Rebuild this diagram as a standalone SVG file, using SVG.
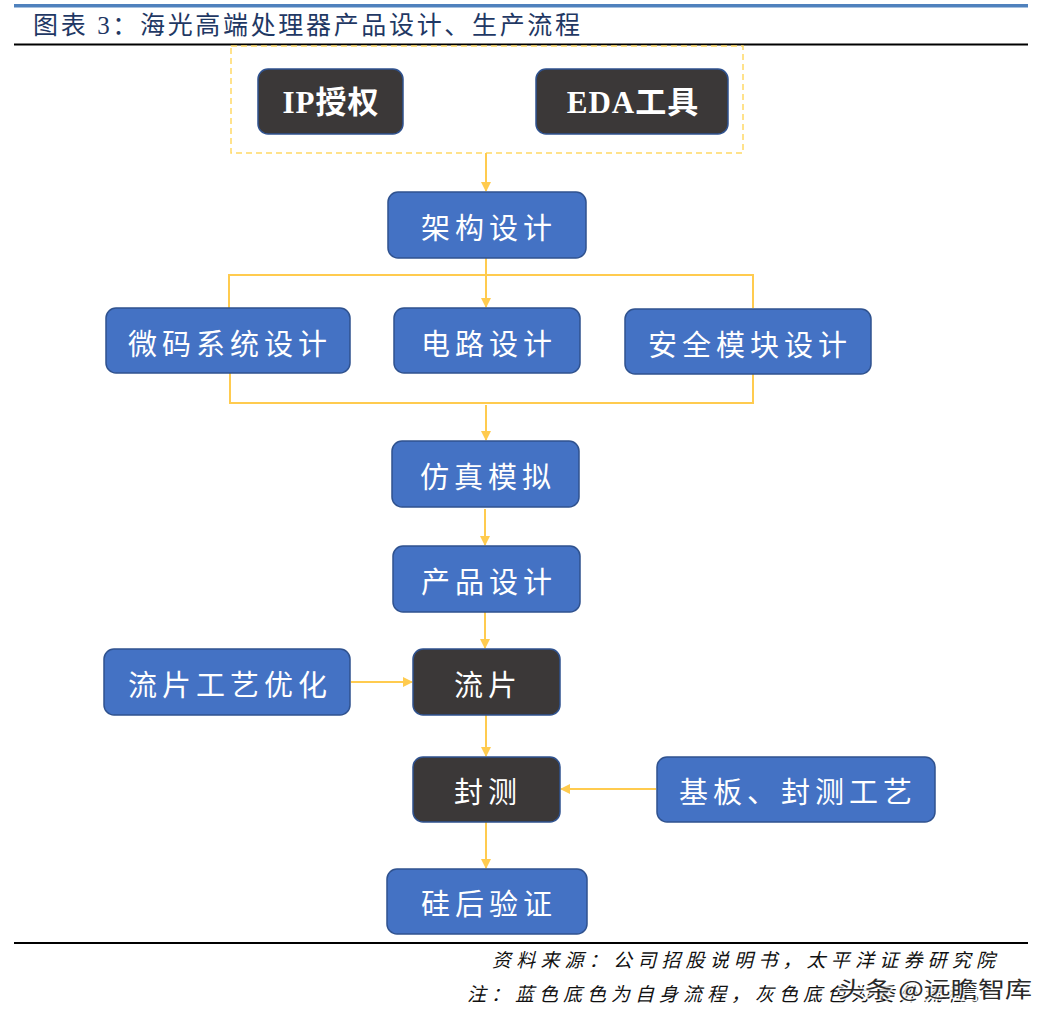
<svg xmlns="http://www.w3.org/2000/svg" width="1056" height="1021" viewBox="0 0 1056 1021">
<defs>
<style>
.blue{fill:#4472C4;stroke:#2F528F;stroke-width:1.5}
.dark{fill:#3B3838;stroke:#2F528F;stroke-width:1.5}
.lbl{font-family:"Noto Sans CJK SC","Liberation Sans",sans-serif;font-size:29px;fill:#FFFFFF;text-anchor:middle;dominant-baseline:central;letter-spacing:5px}
.bold{font-family:"Liberation Serif","Noto Sans CJK SC",serif;font-weight:bold;font-size:31px;letter-spacing:1px}
.con{fill:none;stroke:#FFCB4F;stroke-width:2}
.note{font-family:"Liberation Serif","Noto Sans CJK SC",serif;font-style:italic;font-size:19px;fill:#111111}
</style>
<marker id="arr" viewBox="0 0 10 10" refX="9" refY="5" markerWidth="10" markerHeight="10" markerUnits="userSpaceOnUse" orient="auto">
<path d="M0,0 L10,5 L0,10 z" fill="#FFCB4F"/>
</marker>
</defs>
<rect width="1056" height="1021" fill="#FFFFFF"/>
<g id="header">
<rect x="14" y="4" width="1014" height="3.5" fill="#4F81BD"/>
<text x="33" y="34" font-family="Liberation Serif,Noto Sans CJK SC,serif" font-size="25" fill="#1F3864" textLength="547" lengthAdjust="spacing">图表 3：海光高端处理器产品设计、生产流程</text>
<rect x="14" y="43.5" width="1014" height="2" fill="#000000"/>
<rect x="14" y="942" width="1014" height="2" fill="#000000"/>
</g>
<g id="connectors">
<rect x="231" y="46" width="512" height="107" fill="none" stroke="#FFD966" stroke-width="1.5" stroke-dasharray="6 4"/>
<line class="con" x1="486" y1="153" x2="486" y2="191" marker-end="url(#arr)"/>
<line class="con" x1="486" y1="258" x2="486" y2="307" marker-end="url(#arr)"/>
<polyline class="con" points="229,308 229,275 753,275 753,308"/>
<polyline class="con" points="230,373 230,403 753,403 753,374"/>
<line class="con" x1="486" y1="405" x2="486" y2="440" marker-end="url(#arr)"/>
<line class="con" x1="485" y1="509" x2="485" y2="545" marker-end="url(#arr)"/>
<line class="con" x1="485" y1="612" x2="485" y2="648" marker-end="url(#arr)"/>
<line class="con" x1="351" y1="682" x2="412" y2="682" marker-end="url(#arr)"/>
<line class="con" x1="486" y1="715" x2="486" y2="756" marker-end="url(#arr)"/>
<line class="con" x1="656" y1="789" x2="561" y2="789" marker-end="url(#arr)"/>
<line class="con" x1="486" y1="822" x2="486" y2="868" marker-end="url(#arr)"/>
</g>
<g id="n-ip">
<rect class="dark" x="258" y="69" width="145" height="65" rx="10"/>
<text class="lbl bold" x="331" y="102">IP授权</text>
</g>
<g id="n-eda">
<rect class="dark" x="536" y="69" width="192" height="65" rx="10"/>
<text class="lbl bold" x="633" y="102">EDA工具</text>
</g>
<g id="n-arch">
<rect class="blue" x="388" y="192" width="198" height="66" rx="10"/>
<text class="lbl" x="489" y="226">架构设计</text>
</g>
<g id="n-micro">
<rect class="blue" x="106" y="308" width="244" height="65" rx="10"/>
<text class="lbl" x="230" y="342">微码系统设计</text>
</g>
<g id="n-circuit">
<rect class="blue" x="394" y="308" width="186" height="65" rx="10"/>
<text class="lbl" x="489" y="342">电路设计</text>
</g>
<g id="n-security">
<rect class="blue" x="625" y="309" width="246" height="65" rx="10"/>
<text class="lbl" x="750" y="343">安全模块设计</text>
</g>
<g id="n-sim">
<rect class="blue" x="392" y="441" width="187" height="66" rx="10"/>
<text class="lbl" x="488" y="475">仿真模拟</text>
</g>
<g id="n-product">
<rect class="blue" x="393" y="546" width="187" height="66" rx="10"/>
<text class="lbl" x="489" y="580">产品设计</text>
</g>
<g id="n-tapeout-opt">
<rect class="blue" x="104" y="649" width="246" height="66" rx="10"/>
<text class="lbl" x="230" y="683">流片工艺优化</text>
</g>
<g id="n-tapeout">
<rect class="dark" x="413" y="649" width="147" height="66" rx="10"/>
<text class="lbl" x="488" y="683">流片</text>
</g>
<g id="n-package">
<rect class="dark" x="413" y="757" width="147" height="65" rx="10"/>
<text class="lbl" x="488" y="790">封测</text>
</g>
<g id="n-substrate">
<rect class="blue" x="657" y="757" width="278" height="65" rx="10"/>
<text class="lbl" x="798" y="790">基板、封测工艺</text>
</g>
<g id="n-postsilicon">
<rect class="blue" x="387" y="869" width="200" height="65" rx="10"/>
<text class="lbl" x="489" y="902">硅后验证</text>
</g>
<g id="notes">
<text class="note" x="492" y="967" textLength="503" lengthAdjust="spacing">资料来源：公司招股说明书，太平洋证券研究院</text>
<text class="note" x="467" y="1001" textLength="523" lengthAdjust="spacing">注：蓝色底色为自身流程，灰色底色为委外流程。</text>
<text x="838" y="997" font-family="Noto Sans CJK SC,sans-serif" font-size="22" fill="#2A2A2A" stroke="#FFFFFF" stroke-width="3" paint-order="stroke" stroke-opacity="0.8" textLength="194" lengthAdjust="spacingAndGlyphs">头条 @远瞻智库</text>
</g>
</svg>
